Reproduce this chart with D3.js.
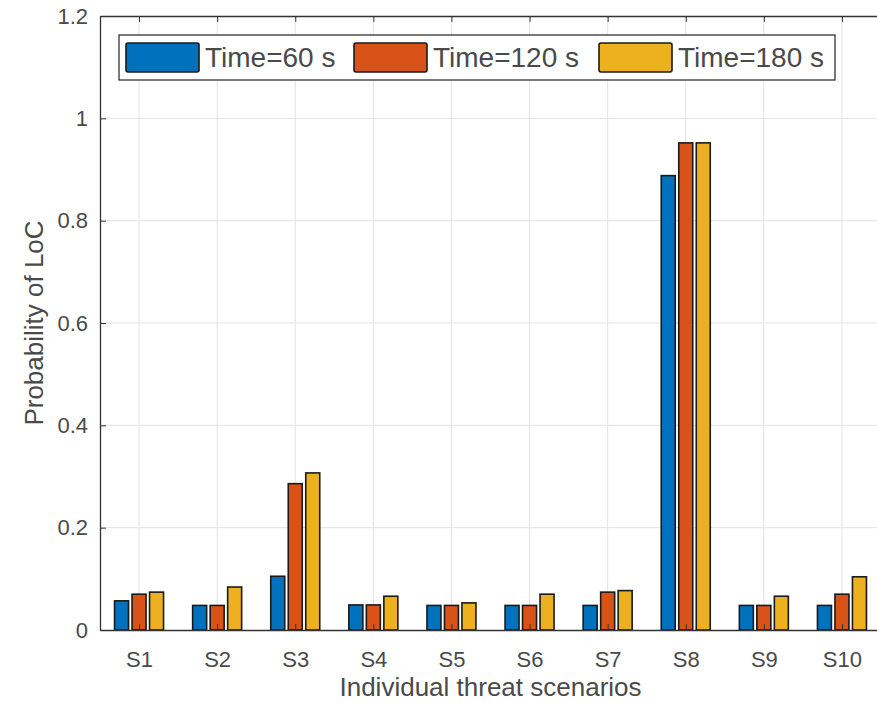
<!DOCTYPE html>
<html>
<head>
<meta charset="utf-8">
<script src="https://cdn.jsdelivr.net/npm/d3@7"></script>
<style>
  html, body { margin: 0; padding: 0; background: #fff; }
  .vis { width: 877px; height: 703px; }
  text { font-family: "Liberation Sans", Arial, sans-serif; fill: #4a4a4a; }
</style>
</head>
<body>
<div class="vis"></div>
<script>
(function() {
  'use strict';

  // data
  var scenarios = ['S1', 'S2', 'S3', 'S4', 'S5', 'S6', 'S7', 'S8', 'S9', 'S10'];
  var time60 = [0.057, 0.048, 0.105, 0.049, 0.048, 0.048, 0.048, 0.888, 0.048, 0.048];
  var time120 = [0.070, 0.048, 0.286, 0.049, 0.048, 0.048, 0.074, 0.952, 0.048, 0.070];
  var time180 = [0.074, 0.084, 0.307, 0.066, 0.053, 0.070, 0.077, 0.952, 0.066, 0.104];
  var seriesNames = ['Time=60 s', 'Time=120 s', 'Time=180 s'];
  var seriesColors = ['#0072BD', '#D95319', '#EDB120'];
  var yTicks = [0, 0.2, 0.4, 0.6, 0.8, 1, 1.2];

  var series = [time60, time120, time180];

  var elWidth = 877,
    elHeight = 703,
    left = 100, right = 881, top = 16, bottom = 630;

  var svg = d3.select('.vis').append('svg')
    .attr('width', elWidth)
    .attr('height', elHeight);

  var x = d3.scaleLinear().domain([0.5, 10.5]).range([left, right]);
  var y = d3.scaleLinear().domain([0, 1.2]).range([bottom, top]);
  var sub = d3.scaleBand().domain(d3.range(series.length))
    .range([-26.25, 26.25]).paddingInner(0.2).paddingOuter(0.1);

  // grid
  svg.append('g').selectAll('line.gx')
    .data(scenarios)
    .enter().append('line')
      .attr('x1', function(d, i) { return x(i + 1); })
      .attr('x2', function(d, i) { return x(i + 1); })
      .attr('y1', top).attr('y2', bottom)
      .attr('stroke', '#e3e3e3').attr('stroke-width', 1);

  svg.append('g').selectAll('line.gy')
    .data(yTicks.slice(1, -1))
    .enter().append('line')
      .attr('x1', left).attr('x2', right)
      .attr('y1', function(d) { return y(d); })
      .attr('y2', function(d) { return y(d); })
      .attr('stroke', '#e3e3e3').attr('stroke-width', 1);

  // bars
  series.forEach(function(vals, s) {
    svg.append('g').selectAll('rect')
      .data(vals)
      .enter().append('rect')
        .attr('x', function(d, i) { return x(i + 1) + sub(s); })
        .attr('width', sub.bandwidth())
        .attr('y', function(d) { return y(d); })
        .attr('height', function(d) { return y(0) - y(d); })
        .attr('fill', seriesColors[s])
        .attr('stroke', '#1a1a1a')
        .attr('stroke-width', 1.6);
  });

  // axes
  var yAxis = d3.axisLeft(y).tickValues(yTicks).tickSizeInner(-6).tickSizeOuter(0)
    .tickPadding(12)
    .tickFormat(function(d) { return d3.format('~g')(d); });
  var gy = svg.append('g').attr('transform', 'translate(' + left + ',0)').call(yAxis);
  gy.select('.domain').attr('stroke', '#333').attr('stroke-width', 1.3);
  gy.selectAll('.tick line').attr('stroke', '#333');
  gy.selectAll('.tick text').attr('font-size', 22).attr('fill', '#4a4a4a')
    .attr('font-family', '"Liberation Sans", Arial, sans-serif');

  var xTickVals = d3.range(1, scenarios.length + 1);
  var xAxis = d3.axisBottom(x).tickValues(xTickVals).tickSizeInner(-6).tickSizeOuter(0)
    .tickPadding(21)
    .tickFormat(function(d) { return scenarios[d - 1]; });
  var gx = svg.append('g').attr('transform', 'translate(0,' + bottom + ')').call(xAxis);
  gx.select('.domain').attr('stroke', '#333').attr('stroke-width', 1.3);
  gx.selectAll('.tick line').attr('stroke', '#333');
  gx.selectAll('.tick text').attr('font-size', 22).attr('fill', '#4a4a4a')
    .attr('font-family', '"Liberation Sans", Arial, sans-serif');

  var xTop = d3.axisTop(x).tickValues(xTickVals).tickSizeInner(-6).tickSizeOuter(0)
    .tickFormat('');
  var gt = svg.append('g').attr('transform', 'translate(0,' + top + ')').call(xTop);
  gt.select('.domain').attr('stroke', '#333').attr('stroke-width', 1.3);
  gt.selectAll('.tick line').attr('stroke', '#333');

  // axis labels
  svg.append('text')
    .attr('x', (left + right) / 2)
    .attr('y', 696)
    .attr('text-anchor', 'middle')
    .attr('font-size', 26)
    .text('Individual threat scenarios');

  svg.append('text')
    .attr('transform', 'translate(43,' + ((top + bottom) / 2) + ') rotate(-90)')
    .attr('text-anchor', 'middle')
    .attr('font-size', 26)
    .text('Probability of LoC');

  // legend
  var legend = svg.append('g');
  legend.append('rect')
    .attr('x', 119).attr('y', 35).attr('width', 716).attr('height', 45)
    .attr('fill', '#fff').attr('stroke', '#333').attr('stroke-width', 1.3);

  var swX = [126, 354, 599];
  var items = legend.selectAll('g.item')
    .data(seriesNames)
    .enter().append('g')
      .attr('transform', function(d, i) { return 'translate(' + swX[i] + ',43)'; });
  items.append('rect')
    .attr('width', 73).attr('height', 29).attr('rx', 2)
    .attr('fill', function(d, i) { return seriesColors[i]; })
    .attr('stroke', '#1a1a1a').attr('stroke-width', 1.6);
  items.append('text')
    .attr('x', 79).attr('y', 24)
    .attr('font-size', 28)
    .text(function(d) { return d; });
}());
</script>
</body>
</html>
